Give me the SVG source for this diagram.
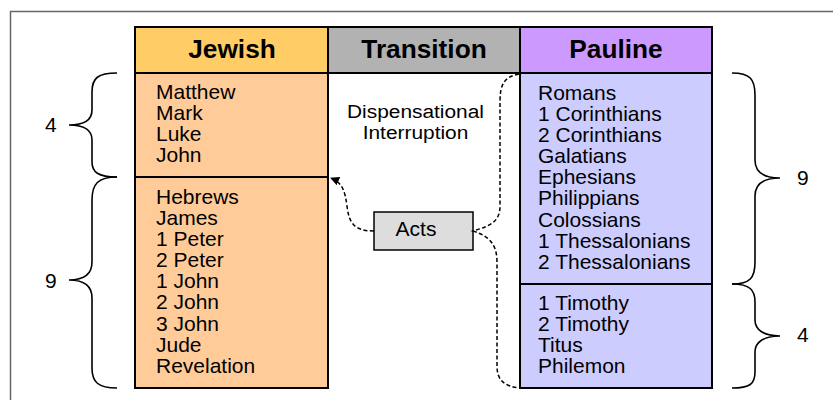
<svg xmlns="http://www.w3.org/2000/svg" width="833" height="400" viewBox="0 0 833 400">
<style>
text{font-family:"Liberation Sans",Arial,sans-serif;fill:#000}
.b{font-size:20px}
.d{font-size:18px;text-anchor:middle}
.h{font-size:25px;font-weight:bold;text-anchor:middle}
.cell{stroke:#000;stroke-width:2}
.brace{fill:none;stroke:#000;stroke-width:1.6}
.dash{fill:none;stroke:#000;stroke-width:1.5;stroke-dasharray:4 2.5}
</style>
<defs>
<marker id="ah" viewBox="0 0 10 10" refX="9" refY="5" markerWidth="9" markerHeight="9" orient="auto" markerUnits="userSpaceOnUse">
<path d="M0,0 L10,5 L0,10 z" fill="#000"/>
</marker>
</defs>
<rect x="10.5" y="11.5" width="840" height="420" fill="#fff" stroke="#666" stroke-width="1.5"/>

<g id="jewish-header">
<rect class="cell" x="135" y="27" width="193" height="46" fill="#FFCC66"/>
<text class="h" transform="translate(232 57.5) scale(1.05 1)">Jewish</text>
</g>
<g id="transition-header">
<rect class="cell" x="328" y="27" width="192" height="46" fill="#B2B2B2"/>
<text class="h" transform="translate(424 57.5) scale(1.05 1)">Transition</text>
</g>
<g id="pauline-header">
<rect class="cell" x="520" y="27" width="192" height="46" fill="#CC99FF"/>
<text class="h" transform="translate(616 57.5) scale(1.05 1)">Pauline</text>
</g>

<g id="gospels">
<rect class="cell" x="135" y="73" width="193" height="104" fill="#FFCC99"/>
<text class="b" transform="translate(156 98.5) scale(1.05 1)"><tspan x="0" y="0">Matthew</tspan><tspan x="0" y="21.1">Mark</tspan><tspan x="0" y="42.2">Luke</tspan><tspan x="0" y="63.3">John</tspan></text>
</g>
<g id="hebrew-epistles">
<rect class="cell" x="135" y="177" width="193" height="211" fill="#FFCC99"/>
<text class="b" transform="translate(156 204) scale(1.05 1)"><tspan x="0" y="0">Hebrews</tspan><tspan x="0" y="21.1">James</tspan><tspan x="0" y="42.2">1 Peter</tspan><tspan x="0" y="63.3">2 Peter</tspan><tspan x="0" y="84.4">1 John</tspan><tspan x="0" y="105.5">2 John</tspan><tspan x="0" y="126.6">3 John</tspan><tspan x="0" y="147.7">Jude</tspan><tspan x="0" y="168.8">Revelation</tspan></text>
</g>
<g id="pauline-church">
<rect class="cell" x="520" y="73" width="192" height="211" fill="#CCCCFF"/>
<text class="b" transform="translate(538 100) scale(1.05 1)"><tspan x="0" y="0">Romans</tspan><tspan x="0" y="21.1">1 Corinthians</tspan><tspan x="0" y="42.2">2 Corinthians</tspan><tspan x="0" y="63.3">Galatians</tspan><tspan x="0" y="84.4">Ephesians</tspan><tspan x="0" y="105.5">Philippians</tspan><tspan x="0" y="126.6">Colossians</tspan><tspan x="0" y="147.7">1 Thessalonians</tspan><tspan x="0" y="168.8">2 Thessalonians</tspan></text>
</g>
<g id="pauline-pastoral">
<rect class="cell" x="520" y="284" width="192" height="104" fill="#CCCCFF"/>
<text class="b" transform="translate(538 309.5) scale(1.05 1)"><tspan x="0" y="0">1 Timothy</tspan><tspan x="0" y="21.1">2 Timothy</tspan><tspan x="0" y="42.2">Titus</tspan><tspan x="0" y="63.3">Philemon</tspan></text>
</g>

<g id="interruption">
<text class="d" transform="translate(415.5 118) scale(1.16 1)">Dispensational</text>
<text class="d" transform="translate(415.5 138.8) scale(1.16 1)">Interruption</text>
</g>
<g id="acts">
<rect x="374" y="212" width="99" height="38" fill="#DDDDDD" stroke="#000" stroke-width="1.5"/>
<text class="b" text-anchor="middle" transform="translate(416 236) scale(1.05 1)">Acts</text>
</g>

<g id="braces">
<path class="brace" d="M117,73 C98,73 92,78 92,92 L92,110 C92,120 84,125 69,125 C84,125 92,130 92,140 L92,162 C92,172 98,177 117,177"/>
<path class="brace" d="M117,177 C98,177 92,184 92,200 L92,262 C92,274 84,280 69,280 C84,280 92,286 92,298 L92,368 C92,382 98,388 117,388"/>
<path class="brace" d="M732,73 C750,73 755,79 755,95 L755,160 C755,172 764,178 780,178 C764,178 755,184 755,196 L755,262 C755,278 750,284 732,284"/>
<path class="brace" d="M732,284 C750,284 755,290 755,302 L755,320 C755,330 764,336 780,336 C764,336 755,342 755,352 L755,372 C755,384 750,388 732,388"/>
<text class="b" transform="translate(45 131.5) scale(1.05 1)">4</text>
<text class="b" transform="translate(45 288) scale(1.05 1)">9</text>
<text class="b" transform="translate(797 185) scale(1.05 1)">9</text>
<text class="b" transform="translate(797 342) scale(1.05 1)">4</text>
</g>

<g id="connectors">
<path class="dash" d="M374,231 C352,231 349,221 347,206 C345,192 343,183 331,178" marker-end="url(#ah)"/>
<path class="dash" d="M519,74 C503,77 500,86 500,102 L500,206 C500,222 490,226 473,231 C489,236 497,244 497,262 L497,366 C497,381 505,386 519,388"/>
</g>
</svg>
